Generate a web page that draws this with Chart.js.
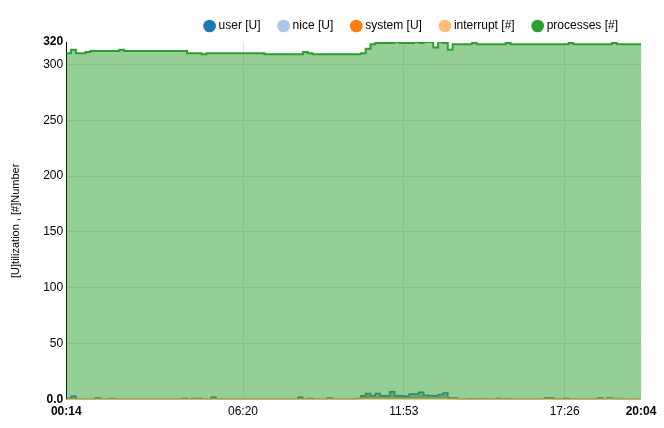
<!DOCTYPE html>
<html><head><meta charset="utf-8">
<script src="https://cdn.jsdelivr.net/npm/chart.js@4.4.1/dist/chart.umd.min.js"></script>
<style>html,body{margin:0;padding:0;background:#fff}#wrap{width:664px;height:428px}</style>
</head><body><div id="wrap"><canvas id="c" width="664" height="428"></canvas></div>
<script>
const seriesNames = ['user [U]', 'nice [U]', 'system [U]', 'interrupt [#]', 'processes [#]'];
const seriesColors = ['#1f77b4', '#aec7e8', '#ff7f0e', '#ffbb78', '#2ca02c'];
const seriesFills = ['rgba(31,119,180,0.5)', 'rgba(174,199,232,0.5)', 'rgba(255,127,14,0.5)', 'rgba(255,187,120,0.5)', 'rgba(44,160,44,0.5)'];
const startMinute = 14;      // 00:14
const stepMinutes = 10;      // sampling interval
const xTickMinutes = [14, 380, 713, 1046, 1204];   // 00:14 06:20 11:53 17:26 20:04
const yTickValues = [0, 50, 100, 150, 200, 250, 300, 320];
const yTitle = '[U]tilization , [#]Number';

const userValues = [
 1,3,0,0,0,0,1.5,0,0,1,
 0,0,0,0,0,0,0,0,0,0,
 0,0,0,0,1,0,1,1,0,0,
 2,0,0,0,0,0,0,0,0,0,
 0,0,0,0,0,0,0,0,2,0,
 1,0,0,0,1.5,0,0,0,0,0,
 1,3.5,5.5,3.5,5.5,3.5,3.5,7,3.5,3.5,
 3,5,5,6.5,4,3.5,3.5,4.5,6,1.5,
 1.5,0,0,0.5,0,0.5,0.5,0,0,1,
 0,0.8,0,0,0,0,0,0,0,1.5,
 1.5,0,0,1,0,0,0,0,0,0,
 1.5,0,1.5,0,0,0,0,0,0,0];
const niceValues = [
 0,0,0,0,0,0,0,0,0,0, 0,0,0,0,0,0,0,0,0,0,
 0,0,0,0,0,0,0,0,0,0, 0,0,0,0,0,0,0,0,0,0,
 0,0,0,0,0,0,0,0,0,0, 0,0,0,0,0,0,0,0,0,0,
 0,0,0,0,0,0,0,0,0,0, 0,0,0,0,0,0,0,0,0,0,
 0,0,0,0,0,0,0,0,0,0, 0,0,0,0,0,0,0,0,0,0,
 0,0,0,0,0,0,0,0,0,0, 0,0,0,0,0,0,0,0,0,0];
const systemValues = [
 0.5,0.5,0,0,0,0,0.3,0,0,0.3,
 0,0,0,0,0,0,0,0,0,0,
 0,0,0,0,0.3,0,0.3,0.3,0,0,
 0.5,0,0,0,0,0,0,0,0,0,
 0,0,0,0,0,0,0,0,0.5,0,
 0.3,0,0,0,0.5,0,0,0,0,0,
 0.8,1.5,2,1.5,1.8,1.5,1.5,2,1.5,1.3,
 1.2,1.8,1.5,2,1.5,1.3,1.3,1.5,2,0.8,
 0.8,0,0,0.3,0,0.3,0.3,0,0,0.3,
 0,0.3,0,0,0,0,0,0,0,0.5,
 0.5,0,0,0.3,0,0,0,0,0,0,
 0.5,0,0.8,1,1,0,0,0,0,0];
const interruptValues = [
 0,0,0,0,0,0,0,0,0,0, 0,0,0,0,0,0,0,0,0,0,
 0,0,0,0,0,0,0,0,0,0, 0,0,0,0,0,0,0,0,0,0,
 0,0,0,0,0,0,0,0,0,0, 0,0,0,0,0,0,0,0,0,0,
 0.5,0.8,1,0.8,1,0.8,0.8,1,0.8,0.8,
 0.7,1,0.8,1,0.8,0.8,0.8,0.8,1,0.5,
 0.5,0,0,0,0,0,0,0,0,0,
 0,0,0,0,0,0,0,0,0,0,
 0,0,0,0,0,0,0,0,0,0,
 0,0,0.8,0.8,0.8,0.5,0,0,0,0];
const processesValues = [
 310,313,310,310,311,312,312,312,312,312,
 312,313,312,312,312,312,312,312,312,312,
 312,312,312,312,312,310,310,310,309,310,
 310,310,310,310,310,310,310,310,310,310,
 310,309,309,309,309,309,309,309,309,311,
 310,309,309,309,309,309,309,309,309,309,
 309,310,314,318,319,319,319,319,320,319,
 319,319,320,319,320,320,315,320,319,313,
 318,318,318,318,319,318,318,318,318,318,
 318,319,318,318,318,318,318,318,318,318,
 318,318,318,318,319,318,318,318,318,318,
 318,318,318,319,318,318,318,318,318,318];

const allValues = [userValues, niceValues, systemValues, interruptValues, processesValues];
const FONT = "'Liberation Sans', Arial, sans-serif";

function toPoints(vals) {
  return vals.map((v, i) => ({ x: startMinute + i * stepMinutes, y: v }));
}
function fmtTime(m) {
  const h = Math.floor(m / 60), mm = Math.round(m % 60);
  return String(h).padStart(2, '0') + ':' + String(mm).padStart(2, '0');
}

const datasets = allValues.map((vals, i) => ({
  label: seriesNames[i],
  data: toPoints(vals),
  borderColor: seriesColors[i],
  backgroundColor: seriesFills[i],
  borderWidth: i === 4 ? 2 : 1.5,
  fill: 'origin',
  stepped: 'before',
  pointRadius: 0,
  order: 5 - i
}));

// nudge the legend box (layout only)
const legendShift = {
  id: 'legendShift',
  afterLayout(chart) {
    const l = chart.legend;
    if (!l) return;
    l.left -= 3; l.right -= 3;
  }
};

new Chart(document.getElementById('c'), {
  type: 'line',
  data: { datasets },
  plugins: [legendShift],
  options: {
    responsive: false,
    animation: false,
    devicePixelRatio: 1,
    layout: { padding: { left: 9, right: 23, top: 0, bottom: 4 } },
    plugins: {
      legend: {
        position: 'top',
        align: 'end',
        labels: {
          usePointStyle: true,
          pointStyle: 'circle',
          boxWidth: 6,
          boxHeight: 9,
          padding: 20,
          color: '#000',
          font: { size: 12, family: FONT },
          sort: (a, b) => a.datasetIndex - b.datasetIndex,
          generateLabels: chart => Chart.defaults.plugins.legend.labels.generateLabels(chart).map(l => Object.assign(l, {
            fillStyle: seriesColors[l.datasetIndex], strokeStyle: seriesColors[l.datasetIndex], lineWidth: 0
          }))
        }
      },
      tooltip: { enabled: false }
    },
    scales: {
      x: {
        type: 'linear',
        min: xTickMinutes[0],
        max: xTickMinutes[xTickMinutes.length - 1],
        afterBuildTicks: s => { s.ticks = xTickMinutes.map(v => ({ value: v })); },
        ticks: {
          autoSkip: false, maxRotation: 0, color: '#000', padding: 5,
          font: ctx => ({ size: 12, family: FONT, weight: (ctx.index === 0 || ctx.index === xTickMinutes.length - 1) ? 'bold' : 'normal' }),
          callback: v => fmtTime(v)
        },
        grid: {
          color: ctx => (ctx.index === 0 || ctx.index === xTickMinutes.length - 1) ? 'rgba(0,0,0,0)' : '#e3e3e3',
          drawTicks: false
        },
        border: { display: false }
      },
      y: {
        min: 0, max: 320,
        afterBuildTicks: s => { s.ticks = yTickValues.map(v => ({ value: v })); },
        ticks: {
          color: '#000', padding: 3,
          font: ctx => ({ size: 12, family: FONT, weight: (ctx.index === 0 || ctx.index === yTickValues.length - 1) ? 'bold' : 'normal' }),
          callback: v => v === 0 ? '0.0' : String(v)
        },
        grid: {
          color: ctx => (ctx.index === 0 || ctx.index === yTickValues.length - 1) ? 'rgba(0,0,0,0)' : '#e3e3e3',
          drawTicks: false
        },
        border: { display: true, color: '#000', width: 1 },
        title: { display: true, text: yTitle, color: '#000', font: { size: 11, family: FONT }, padding: { top: 0, bottom: 18 } }
      }
    }
  }
});
</script>
</body></html>
